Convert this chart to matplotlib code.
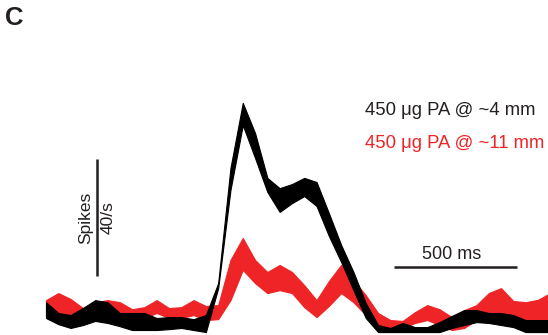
import numpy as np
import matplotlib
matplotlib.use("Agg")
import matplotlib.pyplot as plt

plt.rcParams['font.family'] = ['Liberation Sans', 'DejaVu Sans']

# time bins (ms), 50 ms bins
bin_ms = 50
n_bins = 42
time_ms = np.arange(n_bins) * bin_ms

# 450 ug PA @ ~4 mm (black) : mean +/- SEM band, spikes/s
near_upper = [10.2, 6.5, 5.8, 8.2, 10.9, 10.2, 6.5, 6.5, 6.5, 4.8,
              5.1, 5.1, 4.4, 5.8, 16.7, 56.0, 78.2, 67.9, 52.6, 49.1,
              50.5, 52.6, 51.2, 40.6, 29.7, 20.5, 9.9, 2.4, 1.4, 3.1,
              1.7, 1.7, 3.4, 5.5, 7.5, 7.5, 6.5, 6.5, 5.8, 4.1, 4.1, 4.1]
near_lower = [4.8, 2.7, 1.4, 2.4, 3.8, 3.1, 2.0, 0.7, 0.7, 0.7,
              1.0, 1.4, 0.7, 0.0, 15.0, 48.5, 70.6, 59.4, 47.8, 41.0,
              44.0, 46.4, 43.0, 32.8, 23.9, 14.3, 4.8, 0.0, 0.0, 0.0,
              0.0, 0.0, 0.0, 1.4, 2.4, 3.4, 3.1, 2.4, 1.7, 0.0, 0.0, 0.0]

# 450 ug PA @ ~11 mm (red)
far_upper = [10.9, 13.3, 11.3, 8.2, 10.2, 10.9, 10.2, 7.8, 8.5, 10.9,
             8.2, 8.5, 10.9, 8.9, 9.2, 24.6, 32.1, 24.6, 20.5, 22.9,
             20.5, 16.0, 10.9, 17.4, 22.9, 17.7, 12.6, 6.5, 4.1, 3.8,
             6.8, 9.2, 7.8, 5.1, 7.5, 9.2, 13.3, 15.0, 10.6, 10.2, 11.0,
             13.3]
far_lower = [5.5, 3.1, 4.1, 4.8, 5.8, 6.8, 6.5, 4.8, 4.8, 6.5,
             4.8, 4.8, 5.8, 4.1, 4.4, 10.9, 21.2, 16.7, 13.3, 14.3,
             13.3, 8.5, 5.1, 8.9, 13.3, 10.2, 5.8, 2.4, 1.4, 1.4,
             3.1, 4.1, 2.4, 0.7, 1.4, 4.1, 5.5, 5.5, 3.8, 3.4, 4.1, 4.1]

label_near = "450 \u03bcg PA @ ~4 mm"
label_far = "450 \u03bcg PA @ ~11 mm"
color_near = "#000000"
color_far = "#EE2427"

rate_bar = 40      # spikes/s
time_bar = 500     # ms

fig = plt.figure(figsize=(5.48, 3.35), dpi=100)
ax = fig.add_axes([0, 0, 1, 1])
ax.set_xlim(-187, 2041)
ax.set_ylim(-1.0, 113.3)
ax.axis('off')

ax.fill_between(time_ms, far_lower, far_upper, color=color_far,
                linewidth=0.8, edgecolor=color_far, zorder=2)
ax.fill_between(time_ms, near_lower, near_upper, color=color_near,
                linewidth=0.8, edgecolor=color_near, zorder=3)

# vertical scale bar
vx = 207
vy0 = 19.1
ax.plot([vx, vx], [vy0, vy0 + rate_bar], color='#231f20', lw=1.8,
        solid_capstyle='butt')
ax.text(vx - 17, vy0 + rate_bar / 2, "Spikes", rotation=90, ha='right',
        va='center', fontsize=12.5, color='#231f20')
ax.text(vx + 15, vy0 + rate_bar / 2, "40/s", rotation=90, ha='left',
        va='center', fontsize=12.5, color='#231f20')

# horizontal scale bar
hx0 = 1415
hy = 22.2
ax.plot([hx0, hx0 + time_bar], [hy, hy], color='#231f20', lw=1.8,
        solid_capstyle='butt')
ax.text(hx0 + time_bar / 2 - 15, hy + 1.5, "500 ms", ha='center', va='bottom',
        fontsize=13, color='#231f20')

# labels
fig.text(365 / 548, 1 - 115 / 335, label_near, ha='left', va='baseline',
         fontsize=13.3, color='#231f20')
fig.text(365 / 548, 1 - 148 / 335, label_far, ha='left', va='baseline',
         fontsize=13.3, color=color_far)

fig.text(5 / 548, 1 - 25 / 335, "C", ha='left', va='baseline',
         fontsize=18.5, fontweight='bold', color='#231f20')

fig.savefig("out.png", dpi=100)
